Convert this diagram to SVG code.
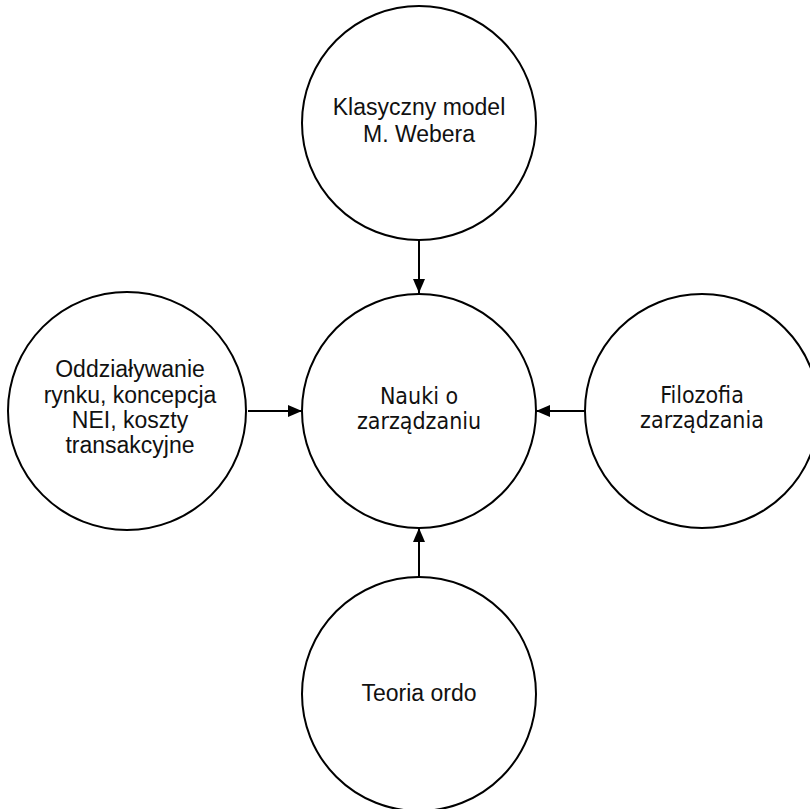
<svg xmlns="http://www.w3.org/2000/svg" width="810" height="809" viewBox="0 0 810 809">
<style>
.node circle{fill:#fff;stroke:#000;stroke-width:2}
.a{font-family:"Liberation Sans",Arial,sans-serif;font-size:23px;fill:#111;text-anchor:middle}
.b{font-family:"DejaVu Sans Condensed","DejaVu Sans",sans-serif;font-stretch:condensed;font-size:23px;fill:#111;text-anchor:middle}
.edge{stroke:#000;stroke-width:2;fill:none;marker-end:url(#ah)}
</style>
<defs>
<marker id="ah" viewBox="0 0 14 12" refX="14" refY="6" markerWidth="14" markerHeight="12" markerUnits="userSpaceOnUse" orient="auto">
<path d="M0,0 L14,6 L0,12 Z" fill="#000"/>
</marker>
</defs>
<rect width="810" height="809" fill="#fff"/>
<g id="connectors">
<line class="edge" x1="419" y1="240" x2="419" y2="293"/>
<line class="edge" x1="248" y1="411" x2="302" y2="411"/>
<line class="edge" x1="585" y1="411" x2="536" y2="411"/>
<line class="edge" x1="419" y1="577" x2="419" y2="528"/>
</g>
<g id="top" class="node">
<circle cx="419" cy="123" r="117"/>
<text class="a" x="419" y="115">Klasyczny model</text>
<text class="a" x="419" y="142">M. Webera</text>
</g>
<g id="center" class="node">
<circle cx="419" cy="411" r="117"/>
<text class="b" x="419" y="404">Nauki o</text>
<text class="b" x="419" y="429">zarządzaniu</text>
</g>
<g id="left" class="node">
<circle cx="127" cy="411" r="119"/>
<text class="a" x="130" y="377">Oddziaływanie</text>
<text class="a" x="130" y="403">rynku, koncepcja</text>
<text class="a" x="130" y="428">NEI, koszty</text>
<text class="a" x="130" y="453">transakcyjne</text>
</g>
<g id="right" class="node">
<circle cx="702" cy="411" r="117"/>
<text class="b" x="702" y="403">Filozofia</text>
<text class="b" x="702" y="428">zarządzania</text>
</g>
<g id="bottom" class="node">
<circle cx="419" cy="694" r="117"/>
<text class="a" x="419" y="701">Teoria ordo</text>
</g>
</svg>
